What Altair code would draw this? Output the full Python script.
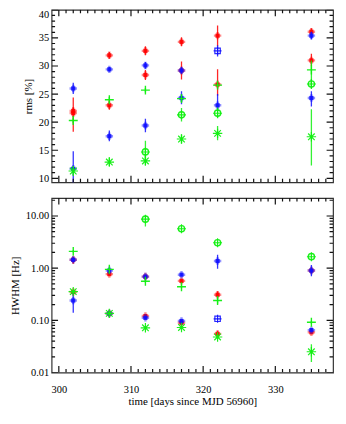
import math
import altair as alt
import pandas as pd

# ---------------- data ----------------
times = [302, 307, 312, 317, 322, 335]

# red, upper rms component
red_a_rms = [22.0, 31.9, 32.7, 34.3, 35.4, 36.1]
red_a_rms_lo = [21.4, 31.3, 31.9, 33.5, 33.5, 35.5]
red_a_rms_hi = [22.6, 32.5, 33.5, 35.1, 37.2, 36.7]
red_a_hw = [0.35, 0.135, 0.121, 0.090, 0.055, 0.059]
red_a_hw_lo = [0.33, 0.128, 0.114, 0.085, 0.048, 0.056]
red_a_hw_hi = [0.37, 0.142, 0.128, 0.095, 0.063, 0.062]

# red, lower rms component
red_b_rms = [21.6, 23.0, 28.4, 29.2, 26.7, 31.0]
red_b_rms_lo = [18.3, 22.2, 27.5, 27.6, 24.7, 30.0]
red_b_rms_hi = [24.4, 23.8, 29.3, 30.8, 29.4, 32.2]
red_b_hw = [1.45, 0.77, 0.69, 0.57, 0.31, 0.90]
red_b_hw_lo = [1.22, 0.73, 0.65, 0.54, 0.27, 0.82]
red_b_hw_hi = [1.62, 0.81, 0.73, 0.60, 0.36, 0.98]

# blue, upper rms component (322 drawn as open square below)
blue_a_rms = [26.0, 29.4, 30.1, 29.2, None, 35.4]
blue_a_rms_lo = [25.0, 29.0, 29.5, 28.6, None, 34.7]
blue_a_rms_hi = [27.0, 29.8, 30.7, 29.8, None, 36.1]
blue_a_hw = [0.24, 0.135, 0.112, 0.097, None, 0.065]
blue_a_hw_lo = [0.14, 0.128, 0.106, 0.092, None, 0.061]
blue_a_hw_hi = [0.35, 0.142, 0.118, 0.102, None, 0.069]

blue_open_t = [322]
blue_open_rms = [32.7]
blue_open_rms_lo = [31.7]
blue_open_rms_hi = [33.7]
blue_open_hw = [0.107]
blue_open_hw_lo = [0.103]
blue_open_hw_hi = [0.111]

# blue, lower rms component
blue_b_rms = [11.7, 17.5, 19.4, 24.3, 23.0, 24.3]
blue_b_rms_lo = [8.5, 16.6, 18.2, 23.2, 22.0, 22.8]
blue_b_rms_hi = [14.8, 18.5, 20.6, 25.5, 25.0, 25.5]
blue_b_hw = [1.45, 0.90, 0.69, 0.75, 1.37, 0.90]
blue_b_hw_lo = [1.30, 0.86, 0.66, 0.71, 0.98, 0.70]
blue_b_hw_hi = [1.60, 0.94, 0.72, 0.79, 1.80, 1.15]

# green plus
green_p_rms = [20.3, 24.0, 25.7, 24.2, 26.6, 29.3]
green_p_rms_lo = [19.8, 23.5, 25.3, 23.7, 26.3, 26.5]
green_p_rms_hi = [20.8, 24.5, 26.1, 24.7, 26.9, 31.0]
green_p_hw = [2.1, 0.95, 0.56, 0.44, 0.24, 0.092]
green_p_hw_lo = [2.0, 0.90, 0.53, 0.41, 0.21, 0.086]
green_p_hw_hi = [2.2, 1.00, 0.59, 0.47, 0.27, 0.098]

# green circle-plus
green_o_rms = [None, None, 14.7, 21.3, 21.6, 26.8]
green_o_rms_lo = [None, None, 13.3, 20.1, 20.7, 25.9]
green_o_rms_hi = [None, None, 16.7, 22.5, 22.6, 27.7]
green_o_hw = [None, None, 8.7, 5.7, 3.07, 1.66]
green_o_hw_lo = [None, None, 6.3, 5.3, 2.9, 1.58]
green_o_hw_hi = [None, None, 9.6, 6.1, 3.25, 1.74]

# green asterisk
green_s_rms = [11.3, 12.9, 13.1, 17.0, 18.0, 17.4]
green_s_rms_lo = [10.5, 12.2, 12.3, 16.2, 16.8, 12.3]
green_s_rms_hi = [12.2, 13.7, 14.0, 17.8, 19.3, 22.3]
green_s_hw = [0.355, 0.136, 0.072, 0.073, 0.048, 0.025]
green_s_hw_lo = [0.33, 0.128, 0.067, 0.068, 0.044, 0.016]
green_s_hw_hi = [0.38, 0.144, 0.077, 0.078, 0.052, 0.035]

# axis ticks
x_major = [300, 310, 320, 330]
x_minor = [v for v in range(300, 338) if v % 10 != 0]
rms_major = [10, 15, 20, 25, 30, 35, 40]
rms_minor = [v for v in range(10, 40) if v % 5 != 0]
hw_major = [0.01, 0.1, 1, 10]
hw_minor = [m * d for d in (0.01, 0.1, 1) for m in range(2, 10)] + [20]

# ---------------- styling ----------------
FONT = "Liberation Serif"
W = 284
H_TOP = 174
H_BOT = 176
X_DOM = [299, 338]
RMS_DOM = [9.3, 40]
HW_DOM = [0.01, 22]
RED = "#ff0000"
BLUE = "#1010ff"
GREEN = "#10f010"
TICK = "#111111"
PLUS = "M-1,0L1,0M0,-1L0,1"
STAR = "M-1,0L1,0M0,-1L0,1M-0.7,-0.7L0.7,0.7M-0.7,0.7L0.7,-0.7"

xscale = alt.Scale(domain=X_DOM, nice=False, zero=False)
rms_scale = alt.Scale(domain=RMS_DOM, nice=False, zero=False)
hw_scale = alt.Scale(type="log", domain=HW_DOM, nice=False)


def frame(t, v, lo, hi):
    rows = [dict(t=a, val=b, lo=c, hi=d) for a, b, c, d in zip(t, v, lo, hi) if b is not None]
    return pd.DataFrame(rows)


def series_layers(df, color, kind, yscale, xax, yax):
    b = alt.Chart(df)

    def enc(m):
        return m.encode(
            x=alt.X("t:Q", scale=xscale, axis=xax),
            y=alt.Y("val:Q", scale=yscale, axis=yax),
        )

    out = [
        b.mark_rule(color=color, strokeWidth=1.3, opacity=0.85, clip=True).encode(
            x=alt.X("t:Q", scale=xscale, axis=xax),
            y=alt.Y("lo:Q", scale=yscale, axis=yax),
            y2="hi:Q",
        )
    ]
    if kind == "filled":
        out.append(enc(b.mark_point(shape=PLUS, size=56, filled=False, strokeWidth=2.4,
                                    color=color, opacity=0.45)))
        out.append(enc(b.mark_point(shape="square", size=18, filled=True, color=color,
                                    opacity=0.9, strokeWidth=0)))
    elif kind == "open":
        out.append(enc(b.mark_point(shape=PLUS, size=64, filled=False, strokeWidth=1.2,
                                    color=color, opacity=0.9)))
        out.append(enc(b.mark_point(shape="square", size=30, filled=False, strokeWidth=1.2,
                                    color=color, opacity=0.9)))
    elif kind == "plus":
        out.append(enc(b.mark_point(shape=PLUS, size=81, filled=False, strokeWidth=1.4,
                                    color=color, opacity=0.95)))
    elif kind == "oplus":
        out.append(enc(b.mark_point(shape="circle", size=40, filled=False, strokeWidth=1.4,
                                    color=color, opacity=0.95)))
        out.append(enc(b.mark_point(shape=PLUS, size=81, filled=False, strokeWidth=1.1,
                                    color=color, opacity=0.95)))
    elif kind == "star":
        out.append(enc(b.mark_point(shape=STAR, size=90, filled=False, strokeWidth=1.2,
                                    color=color, opacity=0.95)))
    return out


def tick_layers(yscale, ydom, ylog, ymaj, ymin, H, xax, yax):
    """Inward frame ticks; tick length in pixels converted to data units of the scales."""
    layers = []
    px_x = W / (X_DOM[1] - X_DOM[0])
    if ylog:
        px_y = H / (math.log10(ydom[1]) - math.log10(ydom[0]))
    else:
        px_y = H / (ydom[1] - ydom[0])

    def yoff(base, L, up):
        if ylog:
            return base * 10 ** ((L / px_y) * (1 if up else -1))
        return base + (L / px_y) * (1 if up else -1)

    for vals, L in ((ymaj, 6.5), (ymin, 3.5)):
        dx = L / px_x
        df = pd.DataFrame({"v": vals, "l0": X_DOM[0], "l1": X_DOM[0] + dx,
                           "r0": X_DOM[1] - dx, "r1": X_DOM[1]})
        c = alt.Chart(df).mark_rule(color=TICK, strokeWidth=1.2, clip=True)
        layers.append(c.encode(y=alt.Y("v:Q", scale=yscale, axis=yax),
                               x=alt.X("l0:Q", scale=xscale, axis=xax), x2="l1:Q"))
        layers.append(c.encode(y=alt.Y("v:Q", scale=yscale, axis=yax),
                               x=alt.X("r0:Q", scale=xscale, axis=xax), x2="r1:Q"))
    for vals, L in ((x_major, 6.5), (x_minor, 3.5)):
        df = pd.DataFrame({"v": vals, "b0": ydom[0], "b1": yoff(ydom[0], L, True),
                           "t0": yoff(ydom[1], L, False), "t1": ydom[1]})
        c = alt.Chart(df).mark_rule(color=TICK, strokeWidth=1.2, clip=True)
        layers.append(c.encode(x=alt.X("v:Q", scale=xscale, axis=xax),
                               y=alt.Y("b0:Q", scale=yscale, axis=yax), y2="b1:Q"))
        layers.append(c.encode(x=alt.X("v:Q", scale=xscale, axis=xax),
                               y=alt.Y("t0:Q", scale=yscale, axis=yax), y2="t1:Q"))
    return layers


def panel(which, yscale, ydom, ylog, ymaj, ymin, H, xax, yax):
    if which == "rms":
        sets = [
            (frame(times, red_a_rms, red_a_rms_lo, red_a_rms_hi), RED, "filled"),
            (frame(times, red_b_rms, red_b_rms_lo, red_b_rms_hi), RED, "filled"),
            (frame(times, blue_a_rms, blue_a_rms_lo, blue_a_rms_hi), BLUE, "filled"),
            (frame(blue_open_t, blue_open_rms, blue_open_rms_lo, blue_open_rms_hi), BLUE, "open"),
            (frame(times, blue_b_rms, blue_b_rms_lo, blue_b_rms_hi), BLUE, "filled"),
            (frame(times, green_p_rms, green_p_rms_lo, green_p_rms_hi), GREEN, "plus"),
            (frame(times, green_o_rms, green_o_rms_lo, green_o_rms_hi), GREEN, "oplus"),
            (frame(times, green_s_rms, green_s_rms_lo, green_s_rms_hi), GREEN, "star"),
        ]
    else:
        sets = [
            (frame(times, red_a_hw, red_a_hw_lo, red_a_hw_hi), RED, "filled"),
            (frame(times, red_b_hw, red_b_hw_lo, red_b_hw_hi), RED, "filled"),
            (frame(times, blue_a_hw, blue_a_hw_lo, blue_a_hw_hi), BLUE, "filled"),
            (frame(blue_open_t, blue_open_hw, blue_open_hw_lo, blue_open_hw_hi), BLUE, "open"),
            (frame(times, blue_b_hw, blue_b_hw_lo, blue_b_hw_hi), BLUE, "filled"),
            (frame(times, green_p_hw, green_p_hw_lo, green_p_hw_hi), GREEN, "plus"),
            (frame(times, green_o_hw, green_o_hw_lo, green_o_hw_hi), GREEN, "oplus"),
            (frame(times, green_s_hw, green_s_hw_lo, green_s_hw_hi), GREEN, "star"),
        ]
    layers = []
    for df, col, kind in sets:
        layers += series_layers(df, col, kind, yscale, xax, yax)
    layers += tick_layers(yscale, ydom, ylog, ymaj, ymin, H, xax, yax)
    return alt.layer(*layers).properties(width=W, height=H)


top_yaxis = alt.Axis(values=rms_major, format="d", ticks=False, domain=False, grid=False,
                     labelFlush=True, labelPadding=3, title="rms [%]", titlePadding=5)
bot_yaxis = alt.Axis(values=hw_major, format=".2f", ticks=False, domain=False, grid=False,
                     labelPadding=3, title="HWHM [Hz]", titlePadding=5)
bot_xaxis = alt.Axis(values=x_major, format="d", ticks=False, domain=False, grid=False,
                     labelPadding=12, title="time [days since MJD 56960]", titlePadding=1)

top = panel("rms", rms_scale, RMS_DOM, False, rms_major, rms_minor, H_TOP, None, top_yaxis)
bot = panel("hwhm", hw_scale, HW_DOM, True, hw_major, hw_minor, H_BOT, bot_xaxis, bot_yaxis)

chart = (
    alt.vconcat(top, bot, spacing=12)
    .properties(padding={"left": 0, "top": -1, "right": 4, "bottom": 4}, background="white")
    .configure_view(stroke="#333333", strokeWidth=1.2)
    .configure_axis(labelFont=FONT, labelFontSize=10.5, labelColor="black",
                    titleFont=FONT, titleFontSize=11, titleFontWeight="normal",
                    titleColor="black")
)

chart.save("out.html", embed_options={"renderer": "svg", "actions": False})
